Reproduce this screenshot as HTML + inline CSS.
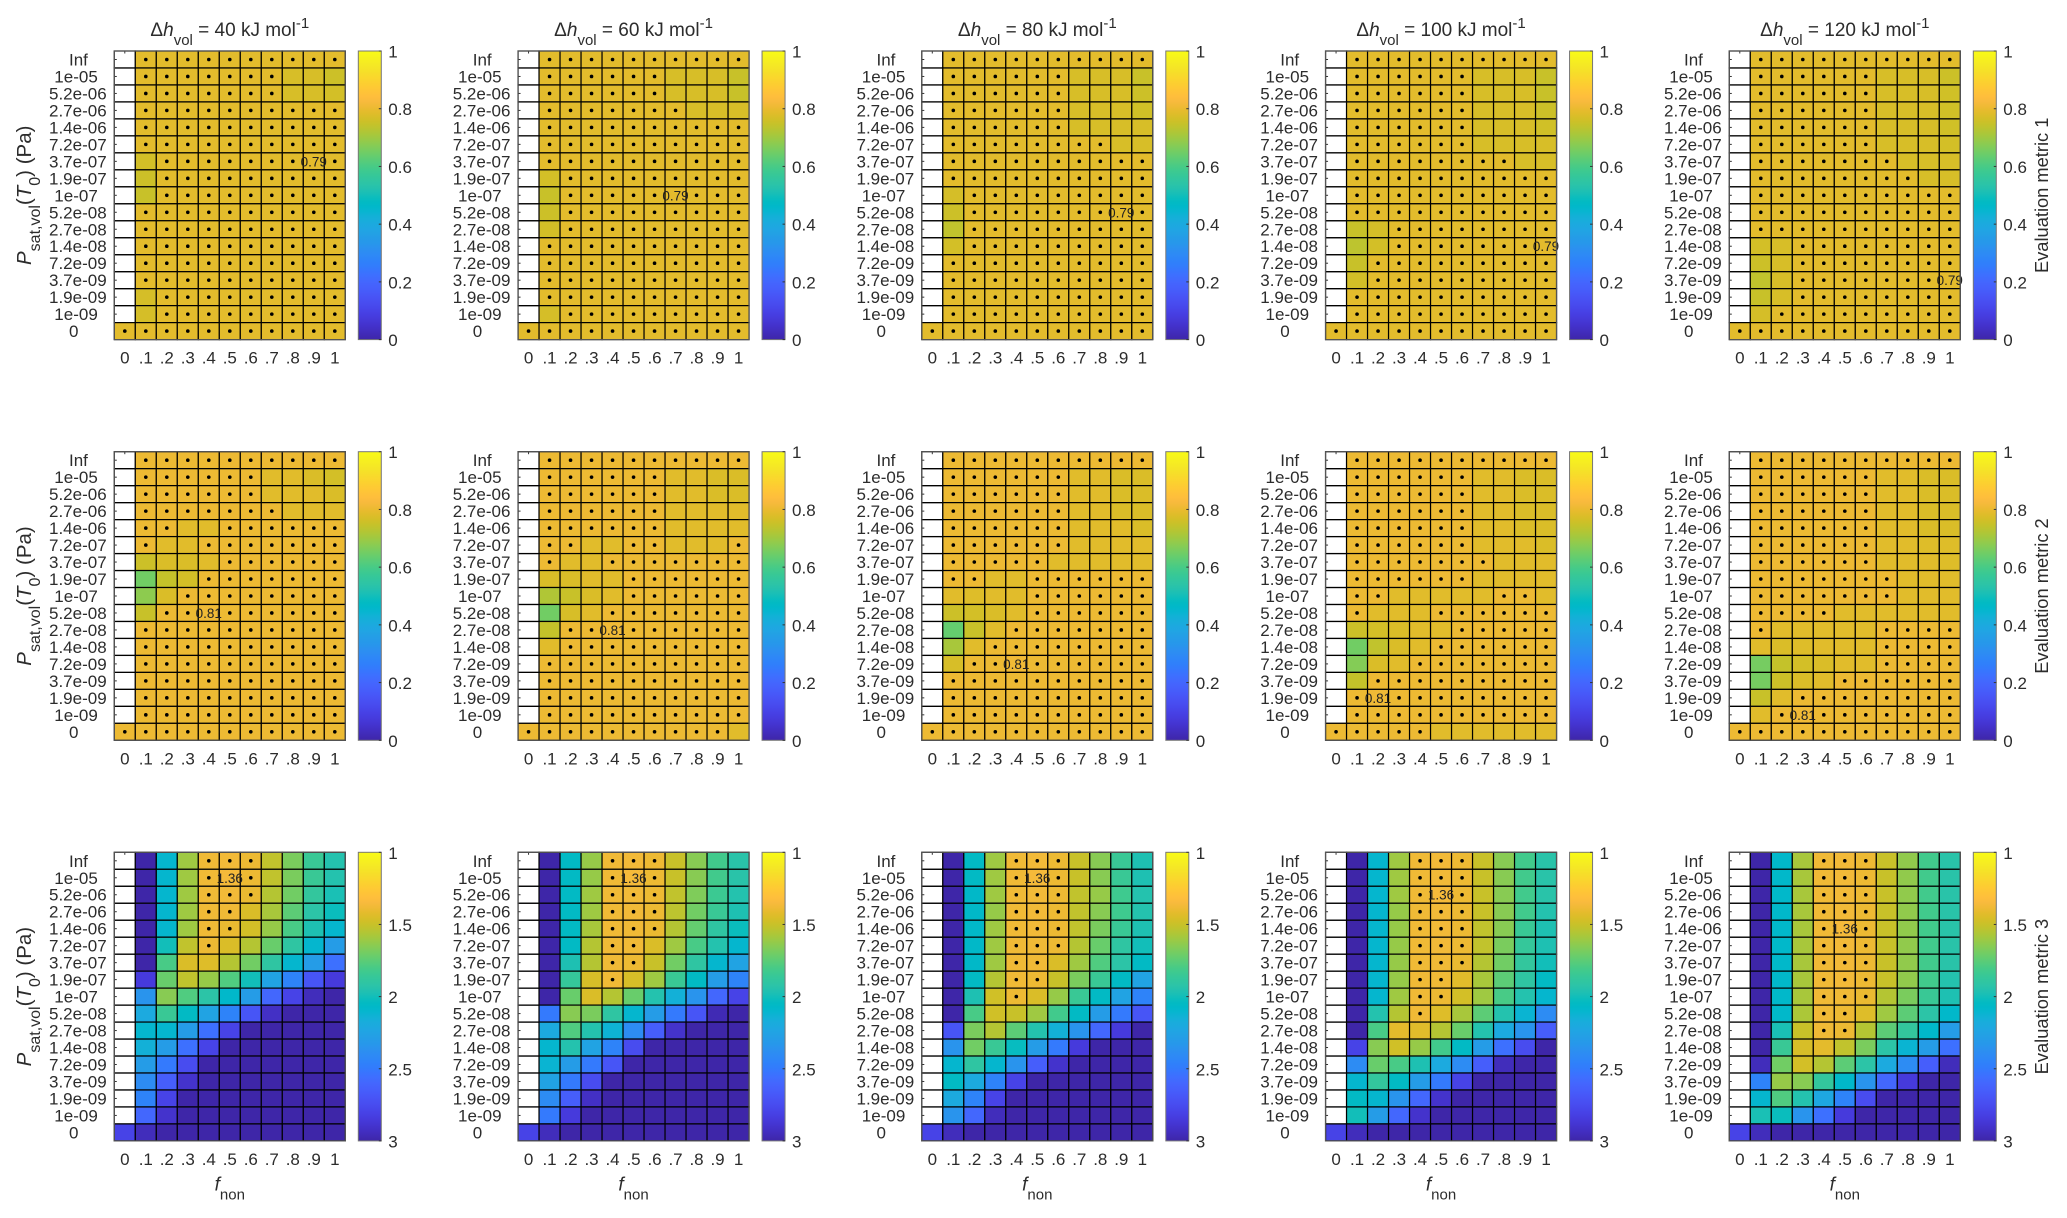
<!DOCTYPE html>
<html lang="en">
<head>
<meta charset="utf-8">
<title>Evaluation metrics heatmaps</title>
<style>
html,body{margin:0;padding:0;background:#fff;width:2067px;height:1218px;overflow:hidden}
svg{display:block}
text{font-family:"Liberation Sans",sans-serif;fill:#2c2c2c}
</style>
</head>
<body>
<svg id="fig" xmlns="http://www.w3.org/2000/svg" width="2067" height="1218" viewBox="0 0 2067 1218">
<defs id="defs"></defs>
</svg>
<script>
const _ = null;
const xCategories = ["0",".1",".2",".3",".4",".5",".6",".7",".8",".9","1"];
const yCategories = ["Inf","1e-05","5.2e-06","2.7e-06","1.4e-06","7.2e-07","3.7e-07","1.9e-07","1e-07","5.2e-08","2.7e-08","1.4e-08","7.2e-09","3.7e-09","1.9e-09","1e-09","0"];
const enthalpies = [40,60,80,100,120];
const metricNames = ["Evaluation metric 1","Evaluation metric 2","Evaluation metric 3"];
const barTicks1 = [0,0.2,0.4,0.6,0.8,1];
const barTickLabels1 = ["0","0.2","0.4","0.6","0.8","1"];
const barTicks3 = [1,1.5,2,2.5,3];
const barTickLabels3 = ["1","1.5","2","2.5","3"];
const dotThresholds = [0.78,0.80,1.40];

const m1h40 = [
[_,.788,.788,.788,.788,.788,.788,.788,.788,.788,.788],
[_,.788,.788,.788,.788,.788,.788,.788,.77,.77,.755],
[_,.788,.788,.788,.788,.788,.788,.788,.77,.77,.765],
[_,.788,.788,.788,.788,.788,.788,.788,.788,.788,.788],
[_,.788,.788,.788,.788,.788,.788,.788,.788,.788,.788],
[_,.788,.788,.788,.788,.788,.788,.788,.788,.788,.788],
[_,.765,.788,.788,.788,.788,.788,.788,.788,.79,.788],
[_,.755,.788,.788,.788,.788,.788,.788,.788,.788,.788],
[_,.75,.788,.788,.788,.788,.788,.788,.788,.788,.788],
[_,.788,.788,.788,.788,.788,.788,.788,.788,.788,.788],
[_,.788,.788,.788,.788,.788,.788,.788,.788,.788,.788],
[_,.788,.788,.788,.788,.788,.788,.788,.788,.788,.788],
[_,.788,.788,.788,.788,.788,.788,.788,.788,.788,.788],
[_,.788,.788,.788,.788,.788,.788,.788,.788,.788,.788],
[_,.768,.788,.788,.788,.788,.788,.788,.788,.788,.788],
[_,.768,.788,.788,.788,.788,.788,.788,.788,.788,.788],
[.788,.788,.788,.788,.788,.788,.788,.788,.788,.788,.788]];
const m1h60 = [
[_,.788,.788,.788,.788,.788,.788,.788,.788,.788,.788],
[_,.788,.788,.788,.788,.788,.788,.77,.77,.77,.75],
[_,.788,.788,.788,.788,.788,.788,.77,.77,.77,.75],
[_,.788,.788,.788,.788,.788,.788,.788,.77,.77,.77],
[_,.788,.788,.788,.788,.788,.788,.788,.788,.788,.788],
[_,.788,.788,.788,.788,.788,.788,.788,.788,.788,.788],
[_,.788,.788,.788,.788,.788,.788,.788,.788,.788,.788],
[_,.765,.788,.788,.788,.788,.788,.788,.788,.788,.788],
[_,.75,.788,.788,.788,.788,.788,.79,.788,.788,.788],
[_,.755,.788,.788,.788,.788,.788,.788,.788,.788,.788],
[_,.765,.788,.788,.788,.788,.788,.788,.788,.788,.788],
[_,.788,.788,.788,.788,.788,.788,.788,.788,.788,.788],
[_,.788,.788,.788,.788,.788,.788,.788,.788,.788,.788],
[_,.788,.788,.788,.788,.788,.788,.788,.788,.788,.788],
[_,.788,.788,.788,.788,.788,.788,.788,.788,.788,.788],
[_,.768,.788,.788,.788,.788,.788,.788,.788,.788,.788],
[.788,.788,.788,.788,.788,.788,.788,.788,.788,.788,.788]];
const m1h80 = [
[_,.788,.788,.788,.788,.788,.788,.788,.788,.788,.788],
[_,.788,.788,.788,.788,.788,.788,.77,.77,.77,.75],
[_,.788,.788,.788,.788,.788,.788,.77,.77,.77,.755],
[_,.788,.788,.788,.788,.788,.788,.77,.77,.77,.76],
[_,.788,.788,.788,.788,.788,.788,.77,.77,.77,.77],
[_,.788,.788,.788,.788,.788,.788,.788,.788,.77,.77],
[_,.788,.788,.788,.788,.788,.788,.788,.788,.788,.788],
[_,.788,.788,.788,.788,.788,.788,.788,.788,.788,.788],
[_,.768,.788,.788,.788,.788,.788,.788,.788,.788,.788],
[_,.755,.788,.788,.788,.788,.788,.788,.788,.79,.788],
[_,.74,.788,.788,.788,.788,.788,.788,.788,.788,.788],
[_,.765,.788,.788,.788,.788,.788,.788,.788,.788,.788],
[_,.788,.788,.788,.788,.788,.788,.788,.788,.788,.788],
[_,.788,.788,.788,.788,.788,.788,.788,.788,.788,.788],
[_,.788,.788,.788,.788,.788,.788,.788,.788,.788,.788],
[_,.788,.788,.788,.788,.788,.788,.788,.788,.788,.788],
[.788,.788,.788,.788,.788,.788,.788,.788,.788,.788,.788]];
const m1h100 = [
[_,.788,.788,.788,.788,.788,.788,.788,.788,.788,.788],
[_,.788,.788,.788,.788,.788,.788,.77,.77,.77,.75],
[_,.788,.788,.788,.788,.788,.788,.77,.77,.77,.75],
[_,.788,.788,.788,.788,.788,.788,.77,.77,.77,.755],
[_,.788,.788,.788,.788,.788,.788,.77,.77,.77,.76],
[_,.788,.788,.788,.788,.788,.788,.77,.77,.77,.77],
[_,.788,.788,.788,.788,.788,.788,.788,.788,.77,.77],
[_,.788,.788,.788,.788,.788,.788,.788,.788,.788,.788],
[_,.788,.788,.788,.788,.788,.788,.788,.788,.788,.788],
[_,.788,.788,.788,.788,.788,.788,.788,.788,.788,.788],
[_,.75,.768,.788,.788,.788,.788,.788,.788,.788,.788],
[_,.735,.765,.788,.788,.788,.788,.788,.788,.788,.79],
[_,.75,.788,.788,.788,.788,.788,.788,.788,.788,.788],
[_,.765,.788,.788,.788,.788,.788,.788,.788,.788,.788],
[_,.788,.788,.788,.788,.788,.788,.788,.788,.788,.788],
[_,.788,.788,.788,.788,.788,.788,.788,.788,.788,.788],
[.788,.788,.788,.788,.788,.788,.788,.788,.788,.788,.788]];
const m1h120 = [
[_,.788,.788,.788,.788,.788,.788,.788,.788,.788,.788],
[_,.788,.788,.788,.788,.788,.788,.77,.77,.77,.755],
[_,.788,.788,.788,.788,.788,.788,.77,.77,.77,.76],
[_,.788,.788,.788,.788,.788,.788,.77,.77,.77,.76],
[_,.788,.788,.788,.788,.788,.788,.77,.77,.77,.76],
[_,.788,.788,.788,.788,.788,.788,.77,.77,.77,.765],
[_,.788,.788,.788,.788,.788,.788,.788,.77,.77,.77],
[_,.788,.788,.788,.788,.788,.788,.788,.788,.77,.77],
[_,.788,.788,.788,.788,.788,.788,.788,.788,.788,.788],
[_,.788,.788,.788,.788,.788,.788,.788,.788,.788,.788],
[_,.788,.788,.788,.788,.788,.788,.788,.788,.788,.788],
[_,.765,.77,.788,.788,.788,.788,.788,.788,.788,.788],
[_,.755,.77,.788,.788,.788,.788,.788,.788,.788,.788],
[_,.74,.77,.788,.788,.788,.788,.788,.788,.788,.79],
[_,.75,.77,.788,.788,.788,.788,.788,.788,.788,.788],
[_,.768,.788,.788,.788,.788,.788,.788,.788,.788,.788],
[.788,.788,.788,.788,.788,.788,.788,.788,.788,.788,.788]];

const m2h40 = [
[_,.805,.805,.805,.805,.805,.805,.805,.805,.805,.805],
[_,.805,.805,.805,.805,.805,.805,.785,.785,.775,.765],
[_,.805,.805,.805,.805,.805,.805,.785,.785,.785,.775],
[_,.805,.805,.805,.805,.805,.805,.805,.785,.785,.785],
[_,.805,.805,.785,.785,.805,.805,.805,.805,.805,.805],
[_,.805,.785,.785,.805,.805,.805,.805,.805,.805,.805],
[_,.755,.775,.775,.785,.805,.805,.805,.805,.805,.805],
[_,.65,.745,.765,.805,.805,.805,.805,.805,.805,.805],
[_,.68,.775,.805,.805,.805,.805,.805,.805,.805,.805],
[_,.75,.805,.805,.81,.805,.805,.805,.805,.805,.805],
[_,.805,.805,.805,.805,.805,.805,.805,.805,.805,.805],
[_,.805,.805,.805,.805,.805,.805,.805,.805,.805,.805],
[_,.805,.805,.805,.805,.805,.805,.805,.805,.805,.805],
[_,.805,.805,.805,.805,.805,.805,.805,.805,.805,.805],
[_,.805,.805,.805,.805,.805,.805,.805,.805,.805,.805],
[_,.805,.805,.805,.805,.805,.805,.805,.805,.805,.805],
[.805,.805,.805,.805,.805,.805,.805,.805,.805,.805,.805]];
const m2h60 = [
[_,.805,.805,.805,.805,.805,.805,.805,.805,.805,.805],
[_,.805,.805,.805,.805,.805,.805,.785,.785,.775,.775],
[_,.805,.805,.805,.805,.805,.805,.785,.785,.775,.775],
[_,.805,.805,.805,.805,.805,.805,.785,.785,.785,.785],
[_,.805,.805,.805,.805,.805,.805,.785,.785,.785,.785],
[_,.805,.805,.785,.785,.805,.805,.785,.785,.785,.805],
[_,.805,.785,.785,.805,.805,.805,.805,.805,.805,.805],
[_,.775,.775,.785,.785,.805,.805,.805,.805,.805,.805],
[_,.72,.75,.775,.785,.805,.805,.805,.805,.805,.805],
[_,.65,.77,.785,.805,.805,.805,.805,.805,.805,.805],
[_,.745,.805,.805,.81,.805,.805,.805,.805,.805,.805],
[_,.785,.805,.805,.805,.805,.805,.805,.805,.805,.805],
[_,.805,.805,.805,.805,.805,.805,.805,.805,.805,.805],
[_,.805,.805,.805,.805,.805,.805,.805,.805,.805,.805],
[_,.805,.805,.805,.805,.805,.805,.805,.805,.805,.805],
[_,.805,.805,.805,.805,.805,.805,.805,.805,.805,.805],
[.805,.805,.805,.805,.805,.805,.805,.805,.805,.805,.785]];
const m2h80 = [
[_,.805,.805,.805,.805,.805,.805,.805,.805,.805,.805],
[_,.805,.805,.805,.805,.805,.805,.785,.785,.775,.775],
[_,.805,.805,.805,.805,.805,.805,.785,.785,.775,.775],
[_,.805,.805,.805,.805,.805,.805,.785,.785,.775,.775],
[_,.805,.805,.805,.805,.805,.805,.785,.785,.785,.775],
[_,.805,.805,.805,.805,.805,.805,.785,.785,.785,.785],
[_,.805,.805,.805,.805,.805,.785,.785,.785,.785,.785],
[_,.805,.805,.785,.785,.805,.805,.805,.805,.805,.805],
[_,.785,.78,.785,.785,.805,.805,.805,.805,.805,.805],
[_,.755,.765,.775,.785,.805,.805,.805,.805,.805,.805],
[_,.635,.75,.785,.805,.805,.805,.805,.805,.805,.805],
[_,.71,.785,.805,.805,.805,.805,.805,.805,.805,.805],
[_,.77,.805,.805,.81,.805,.805,.805,.805,.805,.805],
[_,.805,.805,.805,.805,.805,.805,.805,.805,.805,.805],
[_,.805,.805,.805,.805,.805,.805,.805,.805,.805,.805],
[_,.805,.805,.805,.805,.805,.805,.805,.805,.805,.805],
[.805,.805,.805,.805,.805,.805,.805,.805,.805,.805,.805]];
const m2h100 = [
[_,.805,.805,.805,.805,.805,.805,.805,.805,.805,.805],
[_,.805,.805,.805,.805,.805,.805,.785,.785,.775,.775],
[_,.805,.805,.805,.805,.805,.805,.785,.785,.775,.775],
[_,.805,.805,.805,.805,.805,.805,.785,.785,.775,.775],
[_,.805,.805,.805,.805,.805,.805,.785,.785,.775,.775],
[_,.805,.805,.805,.805,.805,.805,.785,.785,.785,.775],
[_,.805,.805,.805,.805,.806,.806,.805,.785,.785,.785],
[_,.805,.805,.805,.805,.806,.805,.785,.785,.785,.785],
[_,.805,.805,.785,.785,.785,.785,.785,.805,.805,.785],
[_,.805,.785,.785,.785,.805,.805,.805,.805,.805,.805],
[_,.755,.765,.775,.785,.785,.805,.805,.805,.805,.805],
[_,.65,.74,.775,.785,.805,.805,.805,.805,.805,.805],
[_,.67,.775,.785,.805,.805,.805,.805,.805,.805,.805],
[_,.745,.805,.805,.805,.805,.805,.805,.805,.805,.805],
[_,.805,.81,.805,.805,.805,.805,.805,.805,.805,.805],
[_,.805,.805,.805,.805,.805,.805,.805,.805,.805,.805],
[.805,.805,.805,.805,.805,.785,.785,.785,.785,.785,.785]];
const m2h120 = [
[_,.805,.805,.805,.805,.805,.805,.805,.805,.805,.805],
[_,.805,.805,.805,.805,.805,.805,.785,.785,.775,.775],
[_,.805,.805,.805,.805,.805,.805,.785,.785,.775,.775],
[_,.805,.805,.805,.805,.805,.805,.785,.785,.775,.775],
[_,.805,.805,.805,.805,.805,.805,.785,.785,.775,.775],
[_,.805,.805,.805,.805,.805,.805,.785,.785,.78,.78],
[_,.805,.805,.805,.805,.805,.805,.785,.785,.785,.78],
[_,.805,.805,.805,.805,.805,.805,.805,.785,.785,.785],
[_,.805,.805,.805,.805,.806,.806,.805,.785,.785,.785],
[_,.805,.805,.805,.805,.785,.785,.785,.785,.785,.785],
[_,.805,.785,.785,.785,.785,.785,.805,.805,.805,.805],
[_,.785,.775,.78,.785,.785,.785,.805,.805,.805,.805],
[_,.655,.745,.765,.775,.785,.785,.805,.805,.805,.805],
[_,.655,.755,.775,.785,.805,.805,.805,.805,.805,.805],
[_,.75,.785,.805,.805,.805,.805,.805,.805,.805,.805],
[_,.785,.805,.81,.805,.805,.805,.805,.805,.805,.805],
[.805,.805,.805,.805,.805,.805,.805,.805,.805,.805,.805]];

const m3h40 = [
[_,3,2.1,1.6,1.38,1.37,1.39,1.52,1.68,1.85,1.95],
[_,3,2.1,1.6,1.38,1.36,1.39,1.52,1.68,1.85,1.95],
[_,3,2.1,1.6,1.38,1.37,1.4,1.55,1.7,1.88,1.98],
[_,3,2.1,1.6,1.38,1.38,1.45,1.58,1.75,1.92,2.02],
[_,3,2.1,1.6,1.38,1.4,1.47,1.62,1.8,1.97,2.1],
[_,3,2,1.52,1.39,1.45,1.55,1.72,1.9,2.1,2.3],
[_,3,1.8,1.45,1.44,1.55,1.7,1.9,2.1,2.3,2.55],
[_,2.85,1.72,1.52,1.62,1.78,2,2.25,2.45,2.7,2.85],
[_,2.35,1.65,1.78,1.92,2.08,2.3,2.6,2.8,2.95,3],
[_,2.2,1.85,2.05,2.25,2.45,2.7,2.92,3,3,3],
[_,2.1,2.1,2.3,2.55,2.8,3,3,3,3,3],
[_,2.15,2.3,2.55,2.8,3,3,3,3,3,3],
[_,2.3,2.5,2.75,3,3,3,3,3,3,3],
[_,2.4,2.65,2.9,3,3,3,3,3,3,3],
[_,2.45,2.8,3,3,3,3,3,3,3,3],
[_,2.6,2.9,3,3,3,3,3,3,3,3],
[2.8,2.95,3,3,3,3,3,3,3,3,3]];
const m3h60 = [
[_,3,2.05,1.62,1.38,1.37,1.39,1.5,1.65,1.82,1.93],
[_,3,2.05,1.62,1.38,1.36,1.39,1.5,1.65,1.82,1.93],
[_,3,2.05,1.6,1.38,1.37,1.39,1.52,1.67,1.84,1.95],
[_,3,2.05,1.6,1.38,1.37,1.39,1.53,1.7,1.85,1.97],
[_,3,2.05,1.58,1.38,1.38,1.4,1.55,1.73,1.9,2.02],
[_,3,2.05,1.55,1.38,1.38,1.45,1.6,1.8,1.95,2.1],
[_,3,1.97,1.55,1.38,1.39,1.5,1.7,1.9,2.1,2.25],
[_,3,1.87,1.46,1.38,1.46,1.6,1.85,2.05,2.3,2.45],
[_,3,1.72,1.45,1.55,1.72,1.95,2.15,2.35,2.6,2.8],
[_,2.5,1.65,1.68,1.9,2.1,2.3,2.5,2.7,2.97,3],
[_,2.2,1.78,1.95,2.13,2.4,2.65,2.9,3,3,3],
[_,2.1,1.95,2.25,2.45,2.75,3,3,3,3,3],
[_,2.12,2.3,2.5,2.7,3,3,3,3,3,3],
[_,2.25,2.5,2.75,3,3,3,3,3,3,3],
[_,2.4,2.65,2.92,3,3,3,3,3,3,3],
[_,2.5,2.85,3,3,3,3,3,3,3,3],
[2.8,2.95,3,3,3,3,3,3,3,3,3]];
const m3h80 = [
[_,3,2.05,1.6,1.38,1.37,1.39,1.5,1.65,1.85,1.97],
[_,3,2.05,1.6,1.38,1.36,1.39,1.5,1.65,1.85,1.97],
[_,3,2.07,1.6,1.38,1.37,1.39,1.52,1.62,1.83,1.95],
[_,3,2.07,1.62,1.38,1.37,1.39,1.52,1.65,1.83,1.95],
[_,3,2.07,1.6,1.38,1.37,1.39,1.52,1.68,1.85,1.97],
[_,3,2.07,1.6,1.38,1.38,1.39,1.55,1.72,1.9,2],
[_,3,2.07,1.6,1.38,1.38,1.45,1.6,1.78,1.92,2.05],
[_,3,2.05,1.55,1.38,1.39,1.5,1.68,1.85,2.05,2.25],
[_,3,1.97,1.48,1.39,1.45,1.62,1.85,2.05,2.25,2.45],
[_,3,1.8,1.48,1.5,1.6,1.82,2.05,2.3,2.5,2.7],
[_,2.7,1.68,1.55,1.75,1.95,2.15,2.35,2.6,2.85,3],
[_,2.35,1.7,1.85,2.03,2.3,2.5,2.85,3,3,3],
[_,2.1,1.9,2.1,2.35,2.65,2.9,3,3,3,3],
[_,2.05,2.2,2.45,2.8,3,3,3,3,3,3],
[_,2.2,2.45,2.8,3,3,3,3,3,3,3],
[_,2.35,2.6,2.95,3,3,3,3,3,3,3],
[2.8,2.95,3,3,3,3,3,3,3,3,3]];
const m3h100 = [
[_,3,2.1,1.6,1.38,1.37,1.39,1.5,1.65,1.82,1.93],
[_,3,2.1,1.6,1.38,1.37,1.39,1.5,1.65,1.82,1.93],
[_,3,2.1,1.6,1.38,1.36,1.39,1.5,1.65,1.82,1.93],
[_,3,2.1,1.62,1.38,1.37,1.39,1.5,1.65,1.82,1.95],
[_,3,2.1,1.62,1.38,1.37,1.39,1.52,1.65,1.85,1.97],
[_,3,2.1,1.62,1.38,1.37,1.39,1.52,1.68,1.87,1.97],
[_,3,2.1,1.62,1.38,1.38,1.4,1.55,1.7,1.88,2],
[_,3,2.1,1.62,1.38,1.38,1.43,1.58,1.75,1.9,2.05],
[_,3,2.1,1.6,1.38,1.39,1.47,1.6,1.8,1.95,2.1],
[_,3,1.95,1.55,1.38,1.44,1.58,1.75,1.95,2.12,2.4],
[_,3,1.8,1.42,1.43,1.55,1.72,1.95,2.2,2.35,2.65],
[_,2.8,1.65,1.48,1.62,1.82,2.05,2.3,2.55,2.75,3],
[_,2.4,1.72,1.8,1.97,2.2,2.4,2.65,2.95,3,3],
[_,2.1,1.88,2.05,2.3,2.5,2.8,3,3,3,3],
[_,2.05,2.1,2.35,2.6,2.9,3,3,3,3,3],
[_,2,2.3,2.6,2.9,3,3,3,3,3,3],
[2.8,2.95,3,3,3,3,3,3,3,3,3]];
const m3h120 = [
[_,3,2.08,1.58,1.38,1.37,1.39,1.5,1.63,1.82,1.93],
[_,3,2.08,1.58,1.38,1.37,1.39,1.5,1.63,1.82,1.93],
[_,3,2.08,1.58,1.38,1.37,1.39,1.5,1.63,1.82,1.93],
[_,3,2.08,1.58,1.38,1.37,1.39,1.5,1.63,1.82,1.93],
[_,3,2.08,1.58,1.38,1.36,1.39,1.5,1.63,1.82,1.93],
[_,3,2.08,1.58,1.38,1.37,1.39,1.5,1.63,1.82,1.93],
[_,3,2.08,1.58,1.38,1.37,1.39,1.5,1.63,1.82,1.93],
[_,3,2.08,1.58,1.38,1.37,1.39,1.5,1.63,1.82,1.95],
[_,3,2.08,1.58,1.38,1.38,1.4,1.55,1.68,1.85,1.97],
[_,3,2.08,1.57,1.38,1.39,1.44,1.6,1.75,1.92,2.08],
[_,3,1.98,1.5,1.38,1.39,1.55,1.75,1.88,2.08,2.3],
[_,3,1.85,1.46,1.42,1.52,1.68,1.92,2.12,2.3,2.55],
[_,2.95,1.7,1.47,1.55,1.75,1.92,2.2,2.4,2.65,2.95],
[_,2.45,1.62,1.65,1.88,2.08,2.35,2.6,2.85,3,3],
[_,2.1,1.78,1.95,2.22,2.45,2.75,3,3,3,3],
[_,1.98,2.02,2.35,2.55,2.85,3,3,3,3,3],
[2.8,2.95,3,3,3,3,3,3,3,3,3]];
const metricGrids = [
[m1h40,m1h60,m1h80,m1h100,m1h120],
[m2h40,m2h60,m2h80,m2h100,m2h120],
[m3h40,m3h60,m3h80,m3h100,m3h120]];

const parula = [
[.2422,.1504,.6603],[.2504,.1650,.7076],[.2578,.1818,.7511],[.2647,.1978,.7952],[.2706,.2147,.8364],[.2751,.2342,.8710],[.2783,.2559,.8991],[.2803,.2782,.9221],
[.2813,.3006,.9414],[.2810,.3228,.9579],[.2795,.3447,.9717],[.2760,.3667,.9829],[.2699,.3892,.9906],[.2602,.4123,.9952],[.2440,.4358,.9988],[.2206,.4603,.9973],
[.1963,.4847,.9892],[.1834,.5074,.9798],[.1786,.5289,.9682],[.1764,.5499,.9520],[.1687,.5703,.9359],[.1540,.5902,.9218],[.1460,.6091,.9079],[.1380,.6276,.8973],
[.1248,.6459,.8883],[.1113,.6635,.8763],[.0952,.6798,.8598],[.0689,.6948,.8394],[.0297,.7082,.8163],[.0036,.7203,.7917],[.0067,.7312,.7660],[.0433,.7411,.7394],
[.0964,.7500,.7120],[.1408,.7584,.6842],[.1717,.7670,.6554],[.1938,.7758,.6251],[.2161,.7843,.5923],[.2470,.7918,.5567],[.2906,.7973,.5188],[.3406,.8008,.4789],
[.3909,.8029,.4354],[.4456,.8024,.3909],[.5044,.7993,.3480],[.5616,.7942,.3045],[.6174,.7876,.2612],[.6720,.7793,.2227],[.7242,.7698,.1910],[.7738,.7598,.1646],
[.8203,.7498,.1535],[.8634,.7406,.1596],[.9035,.7330,.1774],[.9393,.7288,.2100],[.9728,.7298,.2394],[.9956,.7434,.2371],[.9970,.7659,.2199],[.9952,.7893,.2028],
[.9892,.8136,.1885],[.9786,.8386,.1766],[.9676,.8639,.1643],[.9610,.8890,.1537],[.9597,.9135,.1423],[.9628,.9373,.1265],[.9691,.9606,.1064],[.9769,.9839,.0805]];

const NS = "http://www.w3.org/2000/svg";
const fig = document.getElementById("fig");
const defs = document.getElementById("defs");
const panelLeft = 114.3, panelStep = 403.75, axisWidth = 231;
const rowTops = [51, 451.7, 852.3];
const axisHeight = 288.6;
const barGap = 13, barWidth = 23;

function make(tag, attrs, parent, text) {
  const el = document.createElementNS(NS, tag);
  for (const k in attrs) el.setAttribute(k, attrs[k]);
  if (text !== undefined) el.textContent = text;
  parent.appendChild(el);
  return el;
}
function colorAt(n) {
  const p = Math.max(0, Math.min(1, n)) * (parula.length - 1);
  const i = Math.min(parula.length - 2, Math.floor(p)), t = p - i;
  const c = parula[i].map((v, k) => Math.round(255 * (v + (parula[i + 1][k] - v) * t)));
  return "rgb(" + c.join(",") + ")";
}
function span(parent, text, style) {
  const t = make("tspan", style || {}, parent, text);
  
  
  return t;
}

metricGrids.forEach(function (rowGrids, r) {
  const top = rowTops[r];
  const inverted = r === 2;
  const norm = inverted ? function (v) { return (3 - v) / 2; } : function (v) { return v; };
  const gradId = "bar-gradient-" + r;
  const grad = make("linearGradient", { id: gradId, x1: 0, y1: 1, x2: 0, y2: 0 }, defs);
  parula.forEach(function (c, i) {
    const f = i / (parula.length - 1);
    make("stop", { offset: f, "stop-color": colorAt(f) }, grad);
  });

  rowGrids.forEach(function (grid, c) {
    const x0 = panelLeft + c * panelStep;
    const cw = axisWidth / xCategories.length;
    const ch = axisHeight / yCategories.length;
    const xCell = function (i) { return x0 + i * cw; };
    const yCell = function (j) { return top + j * ch; };

    const g = make("g", {}, fig);
    
    

    // ticks sit underneath the image layer, visible only through empty cells
    xCategories.forEach(function (label, i) {
      const t = make("line", { x1: xCell(i + .5), x2: xCell(i + .5), y1: top, y2: top + 2.5, stroke: "#333", "stroke-width": 1 }, g);
      
      
    });
    yCategories.forEach(function (label, j) {
      const t = make("line", { x1: x0, x2: x0 + 2.5, y1: yCell(j + .5), y2: yCell(j + .5), stroke: "#333", "stroke-width": 1 }, g);
      
      
    });

    // find best value
    let best = null, bi = -1, bj = -1;
    grid.forEach(function (row, j) {
      row.forEach(function (v, i) {
        if (v === null) return;
        if (best === null || (inverted ? v < best : v > best)) { best = v; bi = i; bj = j; }
      });
    });

    grid.forEach(function (row, j) {
      row.forEach(function (v, i) {
        const cell = make("rect", {
          x: xCell(i), y: yCell(j), width: cw, height: ch,
          fill: v === null ? "none" : colorAt(norm(v)),
          stroke: "#000", "stroke-width": 1.2
        }, g);
        
        
      });
    });
    grid.forEach(function (row, j) {
      row.forEach(function (v, i) {
        if (v === null) return;
        const marked = inverted ? v <= dotThresholds[r] : v >= dotThresholds[r];
        if (i === bi && j === bj) {
          const bt = make("text", { x: xCell(i + .5), y: yCell(j + .5) + 5, "text-anchor": "middle", "font-size": 13.5, style: "fill:#222" }, g, best.toFixed(2));
          
          
        } else if (marked) {
          const d = make("circle", { cx: xCell(i + .5), cy: yCell(j + .5), r: 1.8, fill: "#000" }, g);
          
          
        }
      });
    });

    const border = make("rect", { x: x0, y: top, width: axisWidth, height: axisHeight, fill: "none", stroke: "#555", "stroke-width": 1.2 }, g);
    
    

    // tick labels
    xCategories.forEach(function (label, i) {
      const t = make("text", { x: xCell(i + .5), y: top + axisHeight + 24, "text-anchor": "middle", "font-size": 17 }, g, label);
      
      
    });
    yCategories.forEach(function (label, j) {
      const off = label.length >= 7 ? 65.3 : label.length === 5 ? 60 : 45.3;
      const t = make("text", { x: x0 - off, y: yCell(j + .5) + 6, "font-size": 17 }, g, label);
      
      
    });

    // colorbar
    const bx = x0 + axisWidth + barGap;
    const bar = make("rect", { x: bx, y: top, width: barWidth, height: axisHeight, fill: "url(#" + gradId + ")", stroke: "#777", "stroke-width": 1 }, g);
    
    
    const ticks = inverted ? barTicks3 : barTicks1;
    const tickLabels = inverted ? barTickLabels3 : barTickLabels1;
    ticks.forEach(function (v, k) {
      const y = top + axisHeight * (1 - norm(v));
      const tk = make("line", { x1: bx + barWidth - 2.5, x2: bx + barWidth, y1: y, y2: y, stroke: "#333", "stroke-width": 1 }, g);
      
      
      const tl = make("text", { x: bx + barWidth + 7, y: y + 6.5, "font-size": 17 }, g, tickLabels[k]);
      
      
    });

    const cx = x0 + axisWidth / 2;
    // column title
    if (r === 0) {
      const title = make("text", { x: cx, y: 36, "text-anchor": "middle", "font-size": 19 }, g);
      
      
      span(title, "\u0394");
      span(title, "h", { "font-style": "italic" });
      span(title, "vol", { "font-size": 15, dy: 9 });
      span(title, " = " + enthalpies[c] + " kJ mol", { dy: -9 });
      span(title, "-1", { "font-size": 15, dy: -8 });
    }
    // y axis label
    if (c === 0) {
      const cy = top + axisHeight / 2;
      const yl = make("text", { transform: "translate(31," + cy + ") rotate(-90)", "text-anchor": "middle", "font-size": 20.5 }, g);
      
      
      span(yl, "P", { "font-style": "italic" });
      span(yl, "sat,vol", { "font-size": 16, dy: 9 });
      span(yl, "(", { dy: -9 });
      span(yl, "T", { "font-style": "italic" });
      span(yl, "0", { "font-size": 16, dy: 9 });
      span(yl, ")\u00a0(Pa)", { dy: -9 });
    }
    // right-hand metric label
    if (c === rowGrids.length - 1) {
      const cy = top + axisHeight / 2;
      const ml = make("text", { transform: "translate(2048," + cy + ") rotate(-90)", "text-anchor": "middle", "font-size": 18.3 }, g, metricNames[r]);
      
      
    }
    // x axis label
    if (r === 2) {
      const xl = make("text", { x: cx, y: 1190.5, "text-anchor": "middle", "font-size": 19 }, g);
      
      
      span(xl, "f", { "font-style": "italic" });
      span(xl, "non", { "font-size": 15, dy: 9 });
    }
  });
});
</script>
</body>
</html>
